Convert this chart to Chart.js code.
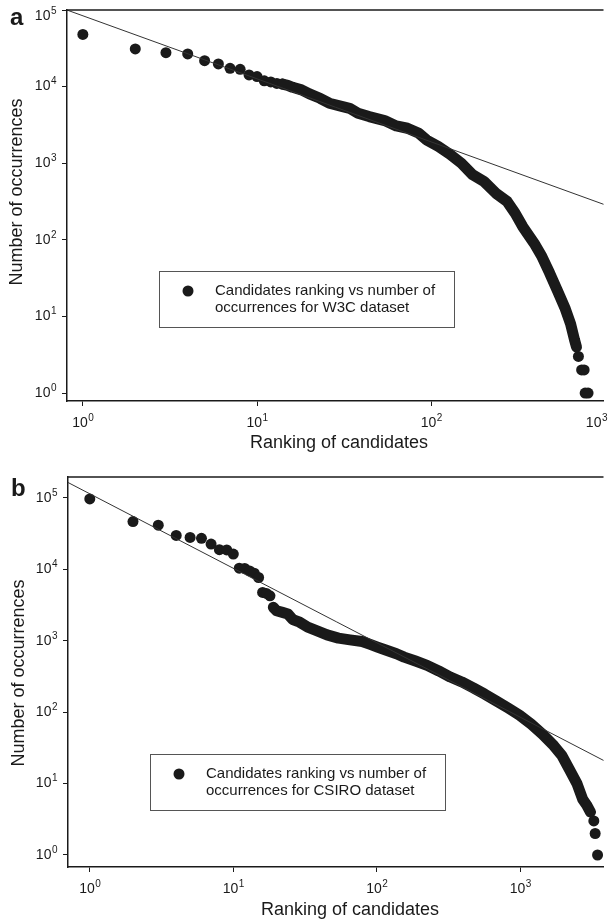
<!DOCTYPE html>
<html>
<head>
<meta charset="utf-8">
<script src="https://cdn.jsdelivr.net/npm/chart.js@4.4.1/dist/chart.umd.min.js"></script>
<style>
  html, body { margin: 0; padding: 0; background: #fff; overflow: hidden; }
  canvas { display: block; }
</style>
</head>
<body>
<canvas id="chartA" width="609" height="460"></canvas>
<canvas id="chartB" width="609" height="459"></canvas>
<script>
// panel a - W3C dataset
const dotRanksA = [1, 2, 3, 4, 5, 6, 7, 8, 9, 10, 11, 12, 13, 14, 700, 730, 755, 765, 795];
const dotCountsA = [48000, 31000, 27700, 26700, 21800, 19800, 17300, 16800, 14200, 13500, 11900, 11500, 11000, 10800, 3, 2, 2, 1, 1];
const curveRanksA = [14, 15, 16, 18, 20, 23, 26, 31, 34, 38, 44, 54, 63, 73, 85, 94, 110, 128, 149, 173, 201, 235, 273, 303, 335, 390, 431, 478, 529, 585, 631, 664, 682];
const curveCountsA = [10800, 10400, 9800, 9060, 8020, 7040, 6070, 5480, 5210, 4490, 4060, 3600, 3070, 2860, 2460, 2010, 1650, 1310, 1000, 705, 577, 406, 316, 223, 149, 90, 61, 37, 22, 13, 8, 5, 4];
const fitRanksA = [0.8, 1000];
const fitCountsA = [101000, 285];

// panel b - CSIRO dataset
const dotRanksB = [1, 2, 3, 4, 5, 6, 7, 8, 9, 10, 11, 12, 13, 14, 15, 16, 17, 18, 3250, 3320, 3450];
const dotCountsB = [97000, 46800, 41600, 29900, 28000, 27200, 22600, 18900, 18700, 16400, 10400, 10300, 9500, 8840, 7700, 4750, 4600, 4270, 3, 2, 1];
const curveRanksB = [19, 20, 22, 24, 26, 29, 33, 38, 45, 54, 65, 79, 89, 101, 114, 137, 155, 186, 224, 270, 325, 391, 470, 565, 680, 819, 985, 1190, 1430, 1710, 1940, 2190, 2480, 2720, 2900, 3080];
const curveCountsB = [2940, 2640, 2500, 2370, 1980, 1820, 1550, 1390, 1210, 1090, 1030, 977, 897, 815, 748, 658, 591, 520, 453, 378, 311, 265, 219, 179, 144, 115, 91, 68, 49, 34, 25, 16, 10, 6, 5, 4];
const fitRanksB = [0.7, 4000];
const fitCountsB = [166000, 20];

const xTicks = [1, 10, 100, 1000];
const yTicks = [1, 10, 100, 1000, 10000, 100000];

const FONT = '"Liberation Sans", Arial, sans-serif';
const INK = "#1a1a1a";

const pts = (xs, ys) => xs.map((x, i) => ({ x: x, y: ys[i] }));

function drawPower(ctx, exp, x, y, align) {
  ctx.font = "14px " + FONT;
  const wb = ctx.measureText("10").width;
  ctx.font = "10px " + FONT;
  const we = ctx.measureText(String(exp)).width;
  let left = align === "right" ? x - wb - we : x - (wb + we) / 2;
  if (left + wb + we > 607) left = 607 - wb - we;
  ctx.textAlign = "left";
  ctx.textBaseline = "middle";
  ctx.font = "14px " + FONT;
  ctx.fillText("10", left, y);
  ctx.font = "10px " + FONT;
  ctx.fillText(String(exp), left + wb + 0.5, y - 5);
}

const decor = {
  id: "decor",
  afterDraw(chart, args, o) {
    const { ctx, chartArea: ca } = chart;
    const xs = chart.scales.x, ys = chart.scales.y;
    ctx.save();
    // top frame line
    ctx.strokeStyle = INK;
    ctx.lineWidth = 1.5;
    ctx.beginPath();
    ctx.moveTo(ca.left, ca.top);
    ctx.lineTo(ca.right, ca.top);
    ctx.stroke();

    ctx.fillStyle = INK;
    xTicks.forEach(v => {
      drawPower(ctx, Math.round(Math.log10(v)), xs.getPixelForValue(v), ca.bottom + 22, "center");
    });
    yTicks.forEach(v => {
      const py = Math.max(ys.getPixelForValue(v), ca.top + 6);
      drawPower(ctx, Math.round(Math.log10(v)), ca.left - 11, py, "right");
    });

    // axis titles
    ctx.font = "18px " + FONT;
    ctx.textAlign = "center";
    ctx.textBaseline = "alphabetic";
    ctx.fillText("Ranking of candidates", o.xTitleX, o.xTitleY);
    ctx.save();
    ctx.translate(o.yTitleX, o.yTitleY);
    ctx.rotate(-Math.PI / 2);
    ctx.fillText("Number of occurrences", 0, 0);
    ctx.restore();

    // panel letter
    ctx.font = "bold 24px " + FONT;
    ctx.textAlign = "left";
    ctx.fillText(o.letter, o.letterX, o.letterY);

    // legend box
    const L = o.legend;
    ctx.fillStyle = "#fff";
    ctx.fillRect(L.x, L.y, L.w, L.h);
    ctx.strokeStyle = "#555";
    ctx.lineWidth = 1;
    ctx.strokeRect(L.x + 0.5, L.y + 0.5, L.w, L.h);
    ctx.fillStyle = INK;
    ctx.beginPath();
    ctx.arc(L.x + 29, L.y + 20, 5.5, 0, Math.PI * 2);
    ctx.fill();
    ctx.font = "15px " + FONT;
    ctx.textBaseline = "middle";
    ctx.fillText(L.lines[0], L.x + 56, L.y + 20);
    ctx.fillText(L.lines[1], L.x + 56, L.y + 37);
    ctx.restore();
  }
};

function makeChart(id, p) {
  return new Chart(document.getElementById(id), {
    type: "scatter",
    data: {
      datasets: [
        {
          data: pts(p.fitR, p.fitC),
          showLine: true,
          borderColor: "#333",
          borderWidth: 1,
          pointRadius: 0
        },
        {
          data: pts(p.curveR, p.curveC),
          showLine: true,
          borderColor: INK,
          borderWidth: 11,
          borderJoinStyle: "round",
          borderCapStyle: "round",
          pointRadius: 0
        },
        {
          data: pts(p.dotR, p.dotC),
          pointRadius: 5.5,
          pointBackgroundColor: INK,
          pointBorderWidth: 0
        }
      ]
    },
    options: {
      responsive: false,
      animation: false,
      devicePixelRatio: 1,
      events: [],
      layout: { padding: { top: p.top, left: 0, right: 0, bottom: 0 } },
      plugins: {
        legend: { display: false },
        tooltip: { enabled: false },
        decor: p.decor
      },
      scales: {
        x: {
          type: "logarithmic",
          min: p.xMin,
          max: p.xMax,
          bounds: "data",
          afterBuildTicks: s => {
            s.ticks = xTicks.filter(v => v >= s.min && v <= s.max).map(v => ({ value: v }));
          },
          afterFit: s => { s.height = p.xAxisH; },
          ticks: { display: false },
          grid: { drawOnChartArea: false, drawTicks: true, tickLength: 5, color: INK, lineWidth: 1 },
          border: { color: INK, width: 1.5 }
        },
        y: {
          type: "logarithmic",
          min: p.yMin,
          max: p.yMax,
          bounds: "data",
          afterBuildTicks: s => {
            s.ticks = yTicks.filter(v => v >= s.min && v <= s.max).map(v => ({ value: v }));
          },
          afterFit: s => { s.width = p.yAxisW; },
          ticks: { display: false },
          grid: { drawOnChartArea: false, drawTicks: true, tickLength: 5, color: INK, lineWidth: 1 },
          border: { color: INK, width: 1.5 }
        }
      }
    },
    plugins: [decor]
  });
}

makeChart("chartA", {
  dotR: dotRanksA, dotC: dotCountsA,
  curveR: curveRanksA, curveC: curveCountsA,
  fitR: fitRanksA, fitC: fitCountsA,
  xMin: 0.811, xMax: 975, yMin: 0.787, yMax: 100000,
  top: 10, xAxisH: 59, yAxisW: 67,
  decor: {
    letter: "a", letterX: 10, letterY: 25,
    xTitleX: 339, xTitleY: 448,
    yTitleX: 22, yTitleY: 192,
    legend: { x: 159, y: 271, w: 295, h: 56, lines: ["Candidates ranking vs number of", "occurrences for W3C dataset"] }
  }
});

makeChart("chartB", {
  dotR: dotRanksB, dotC: dotCountsB,
  curveR: curveRanksB, curveC: curveCountsB,
  fitR: fitRanksB, fitC: fitCountsB,
  xMin: 0.705, xMax: 3795, yMin: 0.679, yMax: 196700,
  top: 17, xAxisH: 52, yAxisW: 68,
  decor: {
    letter: "b", letterX: 11, letterY: 36,
    xTitleX: 350, xTitleY: 455,
    yTitleX: 24, yTitleY: 213,
    legend: { x: 150, y: 294, w: 295, h: 56, lines: ["Candidates ranking vs number of", "occurrences for CSIRO dataset"] }
  }
});
</script>
</body>
</html>
